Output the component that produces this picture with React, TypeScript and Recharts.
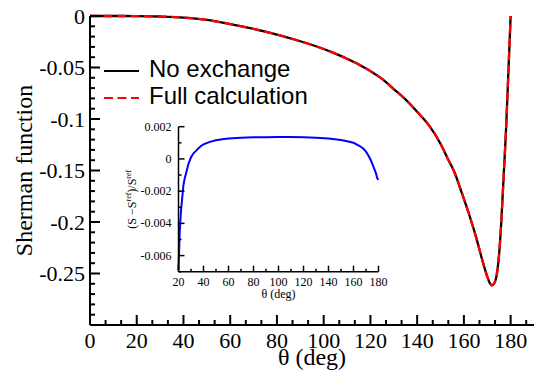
import { Legend, Line, LineChart, XAxis, YAxis } from "recharts";

// Sherman function vs scattering angle
const THETA = [0, 10, 20, 30, 40, 50, 60, 70, 80, 90, 100, 105, 110, 115, 120, 125, 130, 135, 140, 145, 150, 153, 156, 159, 162, 165, 168, 170, 171, 172, 173, 174, 175, 176, 177, 178, 179, 180];
const SHERMAN = [0, 0, -0.0001, -0.0005, -0.0015, -0.0038, -0.0078, -0.0125, -0.018, -0.0245, -0.032, -0.0365, -0.0415, -0.047, -0.0535, -0.061, -0.071, -0.081, -0.093, -0.106, -0.124, -0.138, -0.152, -0.171, -0.191, -0.213, -0.238, -0.253, -0.259, -0.2615, -0.2595, -0.252, -0.233, -0.2, -0.156, -0.112, -0.057, 0];

// relative difference for the inset
const INSET_THETA = [20, 21, 22, 23, 24, 25, 26, 28, 30, 32, 34, 36, 38, 40, 45, 50, 55, 60, 70, 80, 90, 100, 110, 120, 130, 140, 150, 155, 160, 165, 168, 170, 172, 174, 176, 178, 179, 180];
const INSET_DIFF = [-0.0069, -0.0045, -0.0032, -0.0024, -0.0016, -0.0012, -0.0009, -0.0003, 0.0001, 0.00035, 0.0005, 0.00066, 0.0008, 0.0009, 0.00106, 0.00116, 0.00122, 0.00127, 0.00131, 0.00134, 0.00135, 0.00136, 0.00136, 0.00135, 0.00132, 0.00127, 0.00118, 0.0011, 0.001, 0.0008, 0.00063, 0.00045, 0.0002, -0.0001, -0.0005, -0.0009, -0.0012, -0.0013];

const MAIN_X_MAJOR = [0, 20, 40, 60, 80, 100, 120, 140, 160, 180];
const MAIN_X_LABELS = ["0", "20", "40", "60", "80", "100", "120", "140", "160", "180"];
const MAIN_X_MINOR = MAIN_X_MAJOR.flatMap((v) => [v + 20 / 3, v + 40 / 3]);
const MAIN_Y_MAJOR = [0, -0.05, -0.1, -0.15, -0.2, -0.25, -0.3];
const MAIN_Y_LABELS = ["0", "-0.05", "-0.1", "-0.15", "-0.2", "-0.25", ""];
const MAIN_Y_MINOR = [-0.01, -0.02, -0.03, -0.04, -0.06, -0.07, -0.08, -0.09, -0.11, -0.12, -0.13, -0.14, -0.16, -0.17, -0.18, -0.19, -0.21, -0.22, -0.23, -0.24, -0.26, -0.27, -0.28, -0.29];

const INSET_X_MAJOR = [20, 40, 60, 80, 100, 120, 140, 160, 180];
const INSET_X_LABELS = ["20", "40", "60", "80", "100", "120", "140", "160", "180"];
const INSET_X_MINOR = [30, 50, 70, 90, 110, 130, 150, 170];
const INSET_Y_MAJOR = [-0.006, -0.004, -0.002, 0, 0.002];
const INSET_Y_LABELS = ["-0.006", "-0.004", "-0.002", "0", "0.002"];
const INSET_Y_MINOR = [-0.007, -0.005, -0.003, -0.001, 0.001];

const SERIES = [
  { name: "No exchange", color: "#000000", dash: undefined as string | undefined },
  { name: "Full calculation", color: "#ff0000", dash: "9 4.5" },
];

const mainData = THETA.map((t, i) => ({ theta: t, s: SHERMAN[i] }));
const insetData = INSET_THETA.map((t, i) => ({ theta: t, d: INSET_DIFF[i] }));

const SERIF = "Liberation Serif, DejaVu Serif, serif";
const SANS = "Liberation Sans, Arial, sans-serif";

type Side = "left" | "right" | "top" | "bottom";

interface TickOpts {
  side: Side;
  majors: number[];
  labels?: string[];
  majorLen: number;
  minorLen: number;
  stroke: number;
  fontSize?: number;
  gap?: number;
}

// inward tick marks, labels only on the major ones
const makeTick = (o: TickOpts) => (props: any) => {
  const { x, y, payload } = props;
  const idx = o.majors.indexOf(payload.value);
  const len = idx >= 0 ? o.majorLen : o.minorLen;
  let x2 = x;
  let y2 = y;
  if (o.side === "left") x2 = x + len;
  if (o.side === "right") x2 = x - len;
  if (o.side === "top") y2 = y + len;
  if (o.side === "bottom") y2 = y - len;
  const label = idx >= 0 && o.labels ? o.labels[idx] : "";
  const font = { fontFamily: SERIF, fontSize: o.fontSize };
  return (
    <g>
      <line x1={x} y1={y} x2={x2} y2={y2} stroke="#000" strokeWidth={o.stroke} />
      {label && o.side === "left" && (
        <text x={x - (o.gap ?? 5)} y={y} textAnchor="end" dominantBaseline="central" style={font} fill="#000">
          {label}
        </text>
      )}
      {label && o.side === "bottom" && (
        <text x={x} y={y + (o.gap ?? 20)} textAnchor="middle" style={font} fill="#000">
          {label}
        </text>
      )}
    </g>
  );
};

const mainAxisLine = { stroke: "#000", strokeWidth: 2 };
const insetAxisLine = { stroke: "#000", strokeWidth: 1.5 };

const LegendBox = () => (
  <div style={{ fontFamily: SANS, fontSize: 24, color: "#000" }}>
    {SERIES.map((s) => (
      <div key={s.name} style={{ display: "flex", alignItems: "center", height: 27 }}>
        <svg width={45} height={27} style={{ display: "block" }}>
          <line x1={0} y1={16} x2={35} y2={16} stroke={s.color} strokeWidth={2} strokeDasharray={s.dash} />
        </svg>
        <span style={{ lineHeight: "27px", whiteSpace: "nowrap" }}>{s.name}</span>
      </div>
    ))}
  </div>
);

const MainChart = () => (
  <LineChart width={539} height={376} data={mainData} margin={{ top: 16, right: 5, bottom: 0, left: 0 }}>
    <XAxis
      xAxisId="bottom"
      dataKey="theta"
      type="number"
      domain={[0, 190]}
      ticks={[...MAIN_X_MAJOR, ...MAIN_X_MINOR]}
      interval={0}
      height={51}
      tickSize={0}
      tickMargin={0}
      tickLine={false}
      axisLine={mainAxisLine}
      tick={makeTick({ side: "bottom", majors: MAIN_X_MAJOR, labels: MAIN_X_LABELS, majorLen: 10, minorLen: 5, stroke: 2, fontSize: 22, gap: 23 })}
      label={(p: any) => {
        const vb = p.viewBox;
        return (
          <text x={vb.x + vb.width / 2} y={vb.y + 40} textAnchor="middle" style={{ fontFamily: SERIF, fontSize: 24 }} fill="#000">
            θ (deg)
          </text>
        );
      }}
    />
    <XAxis
      xAxisId="top"
      orientation="top"
      dataKey="theta"
      type="number"
      domain={[0, 190]}
      ticks={[...MAIN_X_MAJOR, ...MAIN_X_MINOR]}
      interval={0}
      height={0}
      tickSize={0}
      tickMargin={0}
      tickLine={false}
      axisLine={mainAxisLine}
      tick={makeTick({ side: "top", majors: MAIN_X_MAJOR, majorLen: 10, minorLen: 5, stroke: 2 })}
    />
    <YAxis
      yAxisId="left"
      type="number"
      domain={[-0.3, 0]}
      ticks={[...MAIN_Y_MAJOR, ...MAIN_Y_MINOR]}
      interval={0}
      width={90}
      tickSize={0}
      tickMargin={0}
      tickLine={false}
      axisLine={mainAxisLine}
      tick={makeTick({ side: "left", majors: MAIN_Y_MAJOR, labels: MAIN_Y_LABELS, majorLen: 10, minorLen: 5, stroke: 2, fontSize: 22, gap: 5 })}
      label={(p: any) => {
        const vb = p.viewBox;
        const cy = vb.y + vb.height / 2;
        return (
          <text transform={`translate(32, ${cy}) rotate(-90)`} textAnchor="middle" style={{ fontFamily: SERIF, fontSize: 24 }} fill="#000">
            Sherman function
          </text>
        );
      }}
    />
    <YAxis
      yAxisId="right"
      orientation="right"
      type="number"
      domain={[-0.3, 0]}
      ticks={[...MAIN_Y_MAJOR, ...MAIN_Y_MINOR]}
      interval={0}
      width={0}
      tickSize={0}
      tickMargin={0}
      tickLine={false}
      axisLine={mainAxisLine}
      tick={makeTick({ side: "right", majors: MAIN_Y_MAJOR, majorLen: 10, minorLen: 5, stroke: 2 })}
    />
    <Line
      xAxisId="bottom"
      yAxisId="left"
      type="monotone"
      dataKey="s"
      name={SERIES[0].name}
      stroke={SERIES[0].color}
      strokeWidth={2.3}
      dot={false}
      isAnimationActive={false}
    />
    <Line
      xAxisId="top"
      yAxisId="right"
      type="monotone"
      dataKey="s"
      name={SERIES[1].name}
      stroke={SERIES[1].color}
      strokeWidth={2.3}
      strokeDasharray={SERIES[1].dash}
      dot={false}
      isAnimationActive={false}
    />
    <Legend
      layout="vertical"
      align="center"
      verticalAlign="middle"
      content={() => <LegendBox />}
      wrapperStyle={{ position: "absolute", left: 104, top: 55, width: 260, height: 60 }}
    />
  </LineChart>
);

const InsetChart = () => (
  <LineChart width={300} height={200} data={insetData} margin={{ top: 16.7, right: 21.5, bottom: 0, left: 0 }}>
    <XAxis
      xAxisId="bottom"
      dataKey="theta"
      type="number"
      domain={[20, 180]}
      ticks={[...INSET_X_MAJOR, ...INSET_X_MINOR]}
      interval={0}
      height={38.3}
      tickSize={0}
      tickMargin={0}
      tickLine={false}
      axisLine={insetAxisLine}
      tick={makeTick({ side: "bottom", majors: INSET_X_MAJOR, labels: INSET_X_LABELS, majorLen: 6, minorLen: 3, stroke: 1.5, fontSize: 12, gap: 14 })}
      label={(p: any) => {
        const vb = p.viewBox;
        return (
          <text x={vb.x + vb.width / 2} y={vb.y + 26.5} textAnchor="middle" style={{ fontFamily: SERIF, fontSize: 12 }} fill="#000">
            θ (deg)
          </text>
        );
      }}
    />
    <XAxis
      xAxisId="top"
      orientation="top"
      dataKey="theta"
      type="number"
      domain={[20, 180]}
      ticks={[...INSET_X_MAJOR, ...INSET_X_MINOR]}
      interval={0}
      height={0}
      tickSize={0}
      tickMargin={0}
      tickLine={false}
      axisLine={insetAxisLine}
      tick={makeTick({ side: "top", majors: INSET_X_MAJOR, majorLen: 6, minorLen: 3, stroke: 1.5 })}
    />
    <YAxis
      yAxisId="left"
      type="number"
      domain={[-0.007, 0.002]}
      allowDataOverflow
      ticks={[...INSET_Y_MAJOR, ...INSET_Y_MINOR]}
      interval={0}
      width={78.5}
      tickSize={0}
      tickMargin={0}
      tickLine={false}
      axisLine={insetAxisLine}
      tick={makeTick({ side: "left", majors: INSET_Y_MAJOR, labels: INSET_Y_LABELS, majorLen: 6, minorLen: 3, stroke: 1.5, fontSize: 12, gap: 7 })}
      label={(p: any) => {
        const vb = p.viewBox;
        const cy = vb.y + vb.height / 2;
        return (
          <text transform={`translate(36, ${cy}) rotate(-90)`} textAnchor="middle" style={{ fontFamily: SERIF, fontSize: 12 }} fill="#000">
            (S −S<tspan dy={-5} fontSize={8}>ref</tspan>
            <tspan dy={5}>)/S</tspan>
            <tspan dy={-5} fontSize={8}>ref</tspan>
          </text>
        );
      }}
    />
    <YAxis
      yAxisId="right"
      orientation="right"
      type="number"
      domain={[-0.007, 0.002]}
      allowDataOverflow
      ticks={[...INSET_Y_MAJOR, ...INSET_Y_MINOR]}
      interval={0}
      width={0}
      tickSize={0}
      tickMargin={0}
      tickLine={false}
      axisLine={insetAxisLine}
      tick={makeTick({ side: "right", majors: INSET_Y_MAJOR, majorLen: 6, minorLen: 3, stroke: 1.5 })}
    />
    <Line
      xAxisId="bottom"
      yAxisId="left"
      type="linear"
      dataKey="d"
      stroke="#0000ff"
      strokeWidth={2}
      dot={false}
      isAnimationActive={false}
    />
    <Line
      xAxisId="top"
      yAxisId="right"
      type="linear"
      dataKey="d"
      stroke="none"
      dot={false}
      legendType="none"
      isAnimationActive={false}
    />
  </LineChart>
);

export default function App() {
  return (
    <div style={{ position: "absolute", left: 0, top: 0, width: 539, height: 376, background: "#fff" }}>
      <MainChart />
      <div style={{ position: "absolute", left: 100, top: 110 }}>
        <InsetChart />
      </div>
    </div>
  );
}
